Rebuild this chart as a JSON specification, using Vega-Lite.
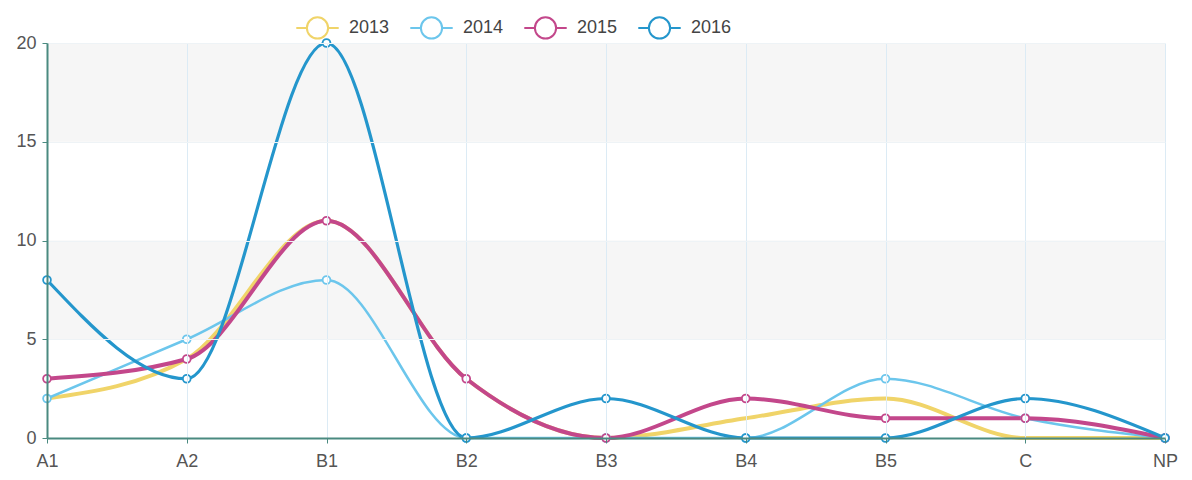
{
  "$schema": "https://vega.github.io/schema/vega-lite/v6.json",
  "width": 1118,
  "height": 395,
  "autosize": "none",
  "padding": {"left": 47, "top": 43, "right": 27, "bottom": 42},
  "background": "white",
  "config": {
    "view": {"stroke": null},
    "font": "Liberation Sans"
  },
  "datasets": {
    "bands": [
      {"lo": 15, "hi": 20},
      {"lo": 5, "hi": 10}
    ],
    "series": [
      {"cat": "A1", "year": "2013", "v": 2},
      {"cat": "A2", "year": "2013", "v": 4},
      {"cat": "B1", "year": "2013", "v": 11},
      {"cat": "B2", "year": "2013", "v": 3},
      {"cat": "B3", "year": "2013", "v": 0},
      {"cat": "B4", "year": "2013", "v": 1},
      {"cat": "B5", "year": "2013", "v": 2},
      {"cat": "C", "year": "2013", "v": 0},
      {"cat": "NP", "year": "2013", "v": 0},
      {"cat": "A1", "year": "2014", "v": 2},
      {"cat": "A2", "year": "2014", "v": 5},
      {"cat": "B1", "year": "2014", "v": 8},
      {"cat": "B2", "year": "2014", "v": 0},
      {"cat": "B3", "year": "2014", "v": 0},
      {"cat": "B4", "year": "2014", "v": 0},
      {"cat": "B5", "year": "2014", "v": 3},
      {"cat": "C", "year": "2014", "v": 1},
      {"cat": "NP", "year": "2014", "v": 0},
      {"cat": "A1", "year": "2015", "v": 3},
      {"cat": "A2", "year": "2015", "v": 4},
      {"cat": "B1", "year": "2015", "v": 11},
      {"cat": "B2", "year": "2015", "v": 3},
      {"cat": "B3", "year": "2015", "v": 0},
      {"cat": "B4", "year": "2015", "v": 2},
      {"cat": "B5", "year": "2015", "v": 1},
      {"cat": "C", "year": "2015", "v": 1},
      {"cat": "NP", "year": "2015", "v": 0},
      {"cat": "A1", "year": "2016", "v": 8},
      {"cat": "A2", "year": "2016", "v": 3},
      {"cat": "B1", "year": "2016", "v": 20},
      {"cat": "B2", "year": "2016", "v": 0},
      {"cat": "B3", "year": "2016", "v": 2},
      {"cat": "B4", "year": "2016", "v": 0},
      {"cat": "B5", "year": "2016", "v": 0},
      {"cat": "C", "year": "2016", "v": 2},
      {"cat": "NP", "year": "2016", "v": 0}
    ]
  },
  "layer": [
    {
      "data": {"name": "bands"},
      "mark": {"type": "rect", "color": "#f6f6f6"},
      "encoding": {
        "y": {
          "field": "lo", "type": "quantitative", "scale": {"domain": [0, 20], "nice": false},
          "axis": {
            "title": null, "values": [0, 5, 10, 15, 20], "labelFontSize": 18, "labelColor": "#555555",
            "domainColor": "#4a8a80", "domainWidth": 2, "tickColor": "#4a8a80", "tickSize": 5,
            "grid": true, "gridColor": "#eef3f6", "labelPadding": 6, "zindex": 1
          }
        },
        "y2": {"field": "hi"}
      }
    },
    {
      "data": {"name": "series"},
      "encoding": {
        "x": {
          "field": "cat", "type": "ordinal",
          "scale": {"type": "point", "padding": 0},
          "sort": ["A1", "A2", "B1", "B2", "B3", "B4", "B5", "C", "NP"],
          "axis": {
            "title": null, "labelAngle": 0, "labelFontSize": 18, "labelColor": "#555555",
            "domainColor": "#4a8a80", "domainWidth": 2, "tickColor": "#4a8a80", "tickSize": 5,
            "grid": true, "gridColor": "#dcebf5", "gridWidth": 1, "labelPadding": 9, "zindex": 1
          }
        },
        "y": {
          "field": "v", "type": "quantitative",
          "scale": {"domain": [0, 20], "nice": false},
          "axis": {
            "title": null, "values": [0, 5, 10, 15, 20], "labelFontSize": 18, "labelColor": "#555555",
            "domainColor": "#4a8a80", "domainWidth": 2, "tickColor": "#4a8a80", "tickSize": 5,
            "grid": true, "gridColor": "#eef3f6", "labelPadding": 6, "zindex": 1
          }
        },
        "color": {
          "field": "year", "type": "nominal",
          "scale": {"domain": ["2013", "2014", "2015", "2016"], "range": ["#f0d469", "#6cc6ec", "#c3478b", "#2496cc"]},
          "legend": {
            "title": null, "orient": "none", "direction": "horizontal",
            "legendX": 248, "legendY": -38,
            "labelFontSize": 18, "labelColor": "#444444",
            "symbolType": "M-1,0 L-0.5,0 M0.5,0 L1,0 M-0.5,0 A0.5,0.5 0 1,0 0.5,0 A0.5,0.5 0 1,0 -0.5,0",
            "symbolSize": 1800, "symbolStrokeWidth": 2, "symbolFillColor": "white",
            "columnPadding": 16, "labelOffset": 9
          }
        }
      },
      "layer": [
        {
          "transform": [{"filter": "datum.year == '2013'"}],
          "mark": {"type": "line", "interpolate": "monotone", "strokeWidth": 4}
        },
        {
          "transform": [{"filter": "datum.year == '2014'"}],
          "mark": {"type": "line", "interpolate": "monotone", "strokeWidth": 2.5}
        },
        {
          "transform": [{"filter": "datum.year == '2015'"}],
          "mark": {"type": "line", "interpolate": "monotone", "strokeWidth": 4}
        },
        {
          "transform": [{"filter": "datum.year == '2016'"}],
          "mark": {"type": "line", "interpolate": "monotone", "strokeWidth": 3.2}
        },
        {
          "transform": [{"filter": "datum.year != '2013'"}],
          "mark": {"type": "point", "shape": "circle", "filled": false, "fill": "white", "fillOpacity": 1, "size": 60, "strokeWidth": 1.8, "opacity": 1}
        }
      ]
    }
  ]
}
